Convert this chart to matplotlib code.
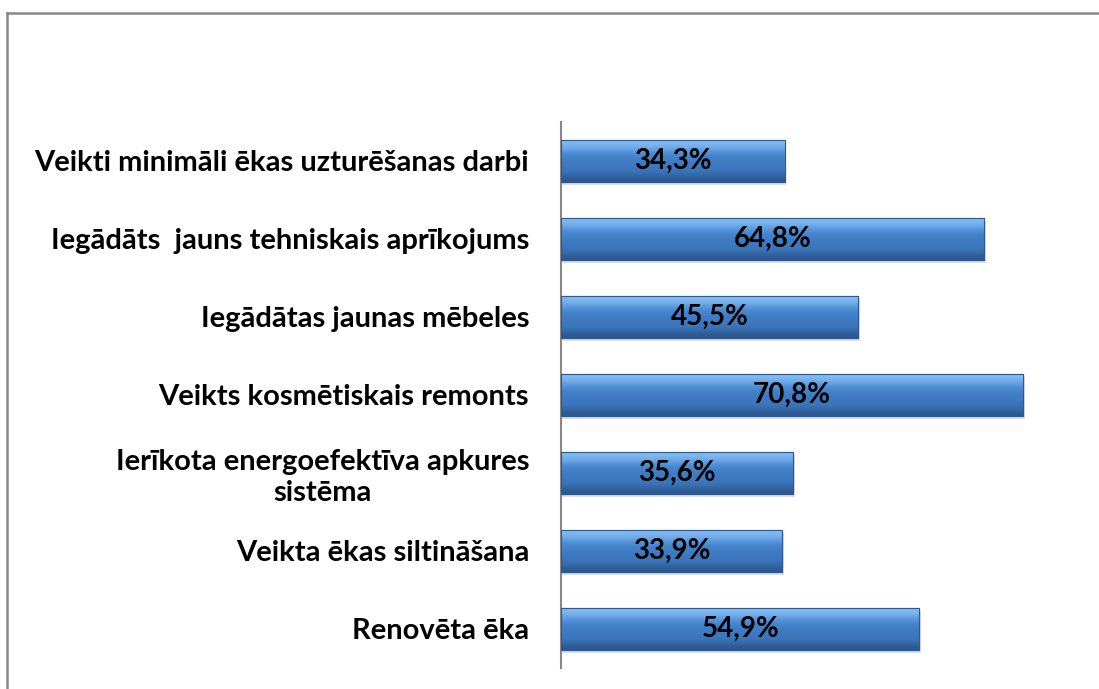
import matplotlib.pyplot as plt
import numpy as np
from matplotlib.lines import Line2D

# data
labels = ['Veikti minimāli ēkas uzturēšanas darbi',
          'Iegādāts  jauns tehniskais aprīkojums',
          'Iegādātas jaunas mēbeles',
          'Veikts kosmētiskais remonts',
          'Ierīkota energoefektīva apkures\nsistēma',
          'Veikta ēkas siltināšana',
          'Renovēta ēka']
values = [34.3, 64.8, 45.5, 70.8, 35.6, 33.9, 54.9]
value_text = ['34,3%', '64,8%', '45,5%', '70,8%', '35,6%', '33,9%', '54,9%']

plt.rcParams['font.family'] = ['Lato', 'DejaVu Sans']

fig = plt.figure(figsize=(10.99, 6.89), dpi=100)
ax = fig.add_axes([0.5105, 0.0305, 0.475, 0.7925])

y = np.arange(len(values))[::-1]
h = 0.53

# vertical gradient for the bevelled bar look (top light -> bottom dark)
grad = np.array([[0.52, 0.74, 0.95], [0.40, 0.64, 0.90], [0.27, 0.52, 0.80],
                 [0.25, 0.49, 0.77], [0.24, 0.47, 0.75], [0.23, 0.45, 0.71],
                 [0.17, 0.34, 0.56]])
grad_img = grad[:, None, :]

for yi, v, t in zip(y, values, value_text):
    # soft shadow under the bar
    ax.barh(yi - 0.04, v + 0.25, height=h, color='#d0d0d0', alpha=0.7, zorder=1)
    bar = ax.barh(yi, v, height=h, color='#3f7bc4', edgecolor='#2e5a8e',
                  linewidth=0.8, zorder=2)[0]
    im = ax.imshow(grad_img, extent=(0, v, yi - h / 2, yi + h / 2),
                   aspect='auto', interpolation='bicubic', zorder=3)
    im.set_clip_path(bar)
    ax.barh(yi, v, height=h, fill=False, edgecolor='#2e5a8e', linewidth=0.8, zorder=4)
    ax.text(v / 2, yi, t, ha='center', va='center', fontsize=20,
            fontweight='bold', color='black', zorder=5)

ax.set_xlim(0, 80)
ax.set_ylim(-0.5, len(values) - 0.5)
ax.set_yticks(y)
ax.set_yticklabels(labels, fontsize=21, fontweight='bold',
                   multialignment='center', linespacing=1.2)
ax.tick_params(axis='y', length=0, pad=23)
ax.set_xticks([])
for s in ['top', 'right', 'bottom']:
    ax.spines[s].set_visible(False)
ax.spines['left'].set_color('#888888')
ax.spines['left'].set_linewidth(1.5)

# outer frame (left and top edges visible)
fig.add_artist(Line2D([7 / 1099, 7 / 1099], [0, 1 - 13 / 689],
                      transform=fig.transFigure, color='#888888', lw=1.8))
fig.add_artist(Line2D([7 / 1099, 1], [1 - 13 / 689, 1 - 13 / 689],
                      transform=fig.transFigure, color='#888888', lw=1.8))

fig.savefig('out.png', dpi=100)
